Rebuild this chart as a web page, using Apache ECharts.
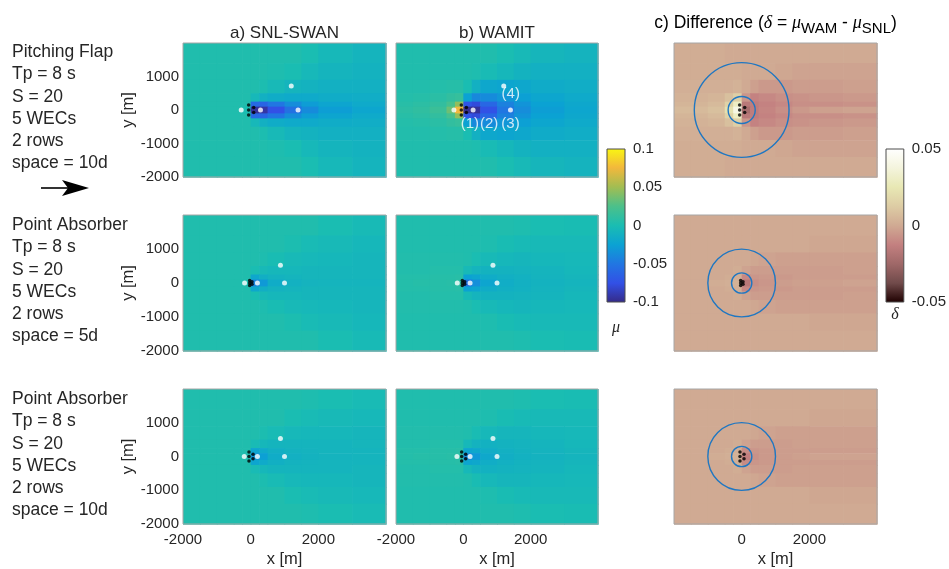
<!DOCTYPE html>
<html><head><meta charset="utf-8">
<script src="https://cdn.jsdelivr.net/npm/echarts@6/dist/echarts.min.js"></script>
<style>html,body{margin:0;padding:0;background:#fff}#c{width:949px;height:569px}</style>
</head><body><div id="c"></div>
<script>
// ================= DATA =================
// cell edges of the field grids (m)
const xEdges = [-2000,-1500,-1000,-500,-250,0,250,500,1000,1500,2000,3000,4000];
const yEdges = [2000,1400,900,500,250,100,-100,-250,-500,-900,-1400,-2000]; // top -> bottom
const xRange = [-2000, 4000];
const yRange = [-2000, 2000];
const xTickStep = 2000;
const yTickStep = 1000;
const muRange = [-0.1, 0.1];
const deltaRange = [-0.05, 0.05];
const muTickStep = 0.05;
const deltaTickStep = 0.05;
const FIELD_UNIT = 0.001; // field arrays are given in thousandths

// a) SNL-SWAN, pitching flap, space 10d (mu x 1000)
const muSwanFlap10d = [
  [3,3,3,3,3,3,3,3,3,0,-5,-8],
  [3,3,3,3,3,3,3,2,0,-5,-8,-10],
  [3,3,3,3,3,3,1,-4,-8,-10,-12,-12],
  [3,3,3,3,3,-5,-12,-16,-18,-18,-16,-15],
  [3,3,3,3,3,-58,-62,-50,-37,-28,-22,-18],
  [3,3,3,3,0,-95,-92,-75,-53,-38,-27,-21],
  [3,3,3,3,3,-58,-62,-50,-37,-28,-22,-18],
  [3,3,3,3,3,-5,-12,-16,-18,-18,-16,-15],
  [3,3,3,3,3,3,1,-4,-8,-10,-12,-12],
  [3,3,3,3,3,3,3,2,0,-5,-8,-10],
  [3,3,3,3,3,3,3,3,3,0,-5,-8]
];
// b) WAMIT, pitching flap, space 10d
const muWamitFlap10d = [
  [3,3,3,3,3,3,3,3,0,-4,-7,-9],
  [3,3,3,3,3,3,2,-2,-6,-10,-12,-12],
  [4,4,5,6,6,0,-12,-20,-22,-20,-17,-15],
  [5,6,8,12,14,-25,-40,-38,-32,-26,-21,-18],
  [7,9,12,22,45,-72,-78,-60,-44,-33,-25,-20],
  [9,11,16,35,75,-97,-95,-74,-50,-37,-27,-21],
  [7,9,12,22,45,-72,-78,-60,-44,-33,-25,-20],
  [5,6,8,12,14,-25,-40,-38,-32,-26,-21,-18],
  [4,4,5,6,6,0,-12,-20,-22,-20,-17,-15],
  [3,3,3,3,3,3,2,-2,-6,-10,-12,-12],
  [3,3,3,3,3,3,3,3,0,-4,-7,-9]
];
// c) difference, pitching flap, space 10d (delta x 1000)
const deltaFlap10d = [
  [1,1,1,0,0,0,0,0,0,0,0,0],
  [1,1,1,1,1,0,0,0,-1,-2,-2,-2],
  [2,2,2,2,3,0,-3,-5,-5,-4,-4,-3],
  [3,3,4,8,14,-6,-12,-10,-8,-7,-6,-5],
  [4,4,6,15,30,-16,-14,-12,-10,-8,-8,-7],
  [6,6,8,22,40,-22,-14,-11,-8,-5,-3,-2],
  [4,4,6,15,30,-16,-14,-12,-10,-8,-8,-7],
  [3,3,4,8,14,-6,-12,-10,-8,-7,-6,-5],
  [2,2,2,2,3,0,-3,-5,-5,-4,-4,-3],
  [1,1,1,1,1,0,0,0,-1,-2,-2,-2],
  [1,1,1,0,0,0,0,0,0,0,0,0]
];
// point absorber, space 5d
const muSwanPA5d = [
  [3,3,3,3,3,3,3,3,3,3,0,-3],
  [3,3,3,3,3,3,3,3,1,-2,-4,-6],
  [3,3,3,3,3,3,2,-1,-4,-5,-6,-7],
  [3,3,3,3,3,0,-4,-6,-6,-7,-7,-7],
  [3,3,3,3,3,-20,-14,-10,-8,-7,-7,-7],
  [3,3,3,3,2,-42,-30,-16,-11,-9,-8,-8],
  [3,3,3,3,3,-20,-14,-10,-8,-7,-7,-7],
  [3,3,3,3,3,0,-4,-6,-6,-7,-7,-7],
  [3,3,3,3,3,3,2,-1,-4,-5,-6,-7],
  [3,3,3,3,3,3,3,3,1,-2,-4,-6],
  [3,3,3,3,3,3,3,3,3,3,0,-3]
];
const muWamitPA5d = [
  [3,3,3,3,3,3,3,3,3,2,0,-1],
  [3,3,3,3,3,3,3,2,-1,-3,-4,-4],
  [4,4,4,4,4,3,0,-4,-6,-7,-6,-5],
  [4,4,5,5,5,-4,-8,-10,-10,-9,-8,-6],
  [5,5,6,6,7,-25,-22,-16,-13,-11,-9,-7],
  [5,6,6,7,8,-52,-36,-22,-15,-12,-10,-8],
  [5,5,6,6,7,-25,-22,-16,-13,-11,-9,-7],
  [4,4,5,5,5,-4,-8,-10,-10,-9,-8,-6],
  [4,4,4,4,4,3,0,-4,-6,-7,-6,-5],
  [3,3,3,3,3,3,3,2,-1,-3,-4,-4],
  [3,3,3,3,3,3,3,3,3,2,0,-1]
];
const deltaPA5d = [
  [0,0,0,0,0,0,0,0,0,0,0,0],
  [0,0,0,0,0,0,0,0,0,0,-1,-1],
  [0,0,0,0,0,0,-1,-2,-3,-3,-3,-3],
  [0,0,0,0,1,-2,-4,-4,-4,-4,-4,-3],
  [0,0,0,1,2,-10,-6,-5,-5,-4,-4,-4],
  [0,0,1,2,3,-16,-8,-6,-4,-3,-3,-2],
  [0,0,0,1,2,-10,-6,-5,-5,-4,-4,-4],
  [0,0,0,0,1,-2,-4,-4,-4,-4,-4,-3],
  [0,0,0,0,0,0,-1,-2,-3,-3,-3,-3],
  [0,0,0,0,0,0,0,0,0,0,-1,-1],
  [0,0,0,0,0,0,0,0,0,0,0,0]
];
// point absorber, space 10d
const muSwanPA10d = [
  [3,3,3,3,3,3,3,3,3,2,0,-2],
  [3,3,3,3,3,3,3,3,0,-2,-4,-5],
  [3,3,3,3,3,3,1,-2,-5,-6,-6,-7],
  [3,3,3,3,3,-2,-6,-8,-8,-8,-8,-7],
  [3,3,3,3,3,-22,-18,-13,-10,-9,-8,-8],
  [3,3,3,3,2,-32,-26,-16,-12,-10,-9,-8],
  [3,3,3,3,3,-22,-18,-13,-10,-9,-8,-8],
  [3,3,3,3,3,-2,-6,-8,-8,-8,-8,-7],
  [3,3,3,3,3,3,1,-2,-5,-6,-6,-7],
  [3,3,3,3,3,3,3,3,0,-2,-4,-5],
  [3,3,3,3,3,3,3,3,3,2,0,-2]
];
const muWamitPA10d = [
  [3,3,3,3,3,3,3,3,3,2,0,-1],
  [3,3,3,3,3,3,3,2,-1,-3,-4,-4],
  [4,4,4,4,4,3,-1,-5,-7,-7,-6,-5],
  [4,4,5,5,5,-5,-10,-11,-10,-9,-8,-6],
  [5,5,6,6,7,-22,-20,-15,-12,-10,-9,-7],
  [5,6,6,7,8,-38,-30,-19,-14,-11,-10,-8],
  [5,5,6,6,7,-22,-20,-15,-12,-10,-9,-7],
  [4,4,5,5,5,-5,-10,-11,-10,-9,-8,-6],
  [4,4,4,4,4,3,-1,-5,-7,-7,-6,-5],
  [3,3,3,3,3,3,3,2,-1,-3,-4,-4],
  [3,3,3,3,3,3,3,3,3,2,0,-1]
];
const deltaPA10d = [
  [0,0,0,0,0,0,0,0,0,0,0,0],
  [0,0,0,0,0,0,0,0,0,0,-1,-1],
  [0,0,0,0,0,0,-1,-2,-3,-3,-3,-3],
  [0,0,0,0,1,-2,-4,-4,-4,-3,-3,-3],
  [0,0,0,1,2,-9,-6,-5,-4,-4,-4,-4],
  [0,0,1,2,3,-13,-7,-5,-4,-3,-2,-2],
  [0,0,0,1,2,-9,-6,-5,-4,-4,-4,-4],
  [0,0,0,0,1,-2,-4,-4,-4,-3,-3,-3],
  [0,0,0,0,0,0,-1,-2,-3,-3,-3,-3],
  [0,0,0,0,0,0,0,0,0,0,-1,-1],
  [0,0,0,0,0,0,0,0,0,0,0,0]
];

// WEC positions per row (m)
const wecsFlap10d = [[-60,150],[-60,0],[-60,-150],[90,75],[90,-75]];
const wecsPA5d = [[-30,75],[-30,0],[-30,-75],[40,38],[40,-38]];
const wecsPA10d = [[-50,130],[-50,0],[-50,-130],[70,65],[70,-65]];
// measurement points per row (m)
const pointsFlap10d = [[-280,0],[290,0],[1400,0],[1200,720]];
const pointsPA5d = [[-180,0],[200,0],[1000,0],[880,520]];
const pointsPA10d = [[-190,0],[200,0],[1000,0],[880,530]];
const pointLabels = ['(1)','(2)','(3)','(4)'];
// circle radii in difference panels (m)
const circlesFlap10d = [400, 1400];
const circlesPA5d = [300, 1000];
const circlesPA10d = [300, 1000];

// texts
const colTitles = ['a) SNL-SWAN', 'b) WAMIT'];
const rowTexts = [
  ['Pitching Flap','Tp = 8 s','S = 20','5 WECs','2 rows','space = 10d'],
  ['Point Absorber','Tp = 8 s','S = 20','5 WECs','2 rows','space = 5d'],
  ['Point Absorber','Tp = 8 s','S = 20','5 WECs','2 rows','space = 10d']
];

// colormaps
const parulaColors = ['#352a87','#3250e6','#2176e2','#0ba2d3','#1abdb2','#4cc08a','#a2bd52','#f2b83c','#f9f612'];
const pinkColors = ['#1e0000','#704a4a','#9f6868','#c38080','#d0aa93','#ddcca4','#e8e8b4','#f4f4dd','#ffffff'];

// ================= LAYOUT =================
const FONT = '"Liberation Sans", Arial, sans-serif';
const TXT = '#262626';
const colLeft = [183, 396, 674], colWidth = [203, 202, 203];
const rowTop = [43, 215, 389], rowHeight = [134, 136, 135];
const rowTextTop = [41, 214, 388];
const labelOffsets = [[16,14],[16,14],[0,14],[7,8]];

const fieldGrid = [
  [muSwanFlap10d, muWamitFlap10d, deltaFlap10d],
  [muSwanPA5d, muWamitPA5d, deltaPA5d],
  [muSwanPA10d, muWamitPA10d, deltaPA10d]
];
const wecRows = [wecsFlap10d, wecsPA5d, wecsPA10d];
const pointRows = [pointsFlap10d, pointsPA5d, pointsPA10d];
const circleRows = [circlesFlap10d, circlesPA5d, circlesPA10d];

function cells(mat) {
  const out = [];
  for (let i = 0; i < mat.length; i++)
    for (let j = 0; j < mat[i].length; j++)
      out.push([xEdges[j], yEdges[i+1], xEdges[j+1], yEdges[i], mat[i][j] * FIELD_UNIT]);
  return out;
}
function renderCell(params, api) {
  const p0 = api.coord([api.value(0), api.value(3)]);
  const p1 = api.coord([api.value(2), api.value(1)]);
  return {type:'rect', shape:{x:p0[0], y:p0[1], width:p1[0]-p0[0]+0.7, height:p1[1]-p0[1]+0.7},
          style:{fill: api.visual('color')}};
}
function renderFrame(params, api) {
  const p0 = api.coord([api.value(0), api.value(3)]);
  const p1 = api.coord([api.value(2), api.value(1)]);
  return {type:'rect', shape:{x:p0[0], y:p0[1], width:p1[0]-p0[0], height:p1[1]-p0[1]},
          style:{fill:null, stroke:'#a6a6a6', lineWidth:1}};
}
function renderCircle(params, api) {
  const c = api.coord([api.value(0), api.value(1)]);
  const r = api.size([api.value(2), 0])[0];
  return {type:'circle', shape:{cx:c[0], cy:c[1], r:r}, style:{fill:null, stroke:'#1f77c2', lineWidth:1.4}};
}
function renderBar(colors) {
  return function(params, api) {
    const p0 = api.coord([api.value(0), api.value(3)]);
    const p1 = api.coord([api.value(2), api.value(1)]);
    const stops = colors.map((c, i) => ({offset: 1 - i/(colors.length-1), color: c})).reverse();
    return {type:'rect', shape:{x:p0[0], y:p0[1], width:p1[0]-p0[0], height:p1[1]-p0[1]},
            style:{fill: new echarts.graphic.LinearGradient(0,0,0,1, stops), stroke:'#4d4d4d', lineWidth:1}};
  };
}
const plainNum = v => String(Math.round(v * 1000) / 1000);

const grid = [], xAxis = [], yAxis = [], series = [];
const muIdx = [], deltaIdx = [];
for (let r = 0; r < 3; r++) {
  for (let c = 0; c < 3; c++) {
    const k = r*3 + c;
    const isDelta = c === 2;
    grid.push({left: colLeft[c], top: rowTop[r], width: colWidth[c], height: rowHeight[r]});
    xAxis.push({gridIndex:k, type:'value', min:xRange[0], max:xRange[1], interval:xTickStep,
      axisLine:{show:false}, axisTick:{show:false}, splitLine:{show:false},
      axisLabel:{show: r===2, showMaxLabel:false, showMinLabel: !isDelta, fontSize:15, color:TXT,
                 fontFamily:FONT, margin:8, formatter: plainNum},
      name: r===2 ? 'x [m]' : '', nameLocation:'middle', nameGap:27,
      nameTextStyle:{fontSize:16.5, color:TXT, fontFamily:FONT}});
    yAxis.push({gridIndex:k, type:'value', min:yRange[0], max:yRange[1], interval:yTickStep,
      axisLine:{show:false}, axisTick:{show:false}, splitLine:{show:false},
      axisLabel:{show: c===0, showMaxLabel:false, fontSize:15, color:TXT, fontFamily:FONT, margin:4,
                 formatter: plainNum},
      name: c===0 ? 'y [m]' : '', nameLocation:'middle', nameGap:38, nameRotate:90,
      nameTextStyle:{fontSize:16.5, color:TXT, fontFamily:FONT}});
    (isDelta ? deltaIdx : muIdx).push(series.length);
    series.push({type:'custom', xAxisIndex:k, yAxisIndex:k, renderItem:renderCell,
      encode:{x:[0,2], y:[1,3]}, data:cells(fieldGrid[r][c]), z:1, silent:true});
    if (isDelta) {
      series.push({type:'custom', xAxisIndex:k, yAxisIndex:k, renderItem:renderCircle,
        encode:{x:0, y:1}, data:circleRows[r].map(rad => [0, 0, rad]), z:4, silent:true});
    }
    series.push({type:'scatter', xAxisIndex:k, yAxisIndex:k, data:wecRows[r], symbol:'circle',
      symbolSize:3.5, itemStyle:{color:'#000'}, z:6, silent:true});
    if (!isDelta) {
      const pts = pointRows[r].map((p, i) => {
        const item = {value: p};
        if (r === 0 && c === 1) item.label = {show:true, position:'inside', formatter: pointLabels[i],
          offset: labelOffsets[i], color:'#fff', fontSize:15, fontFamily:FONT};
        return item;
      });
      series.push({type:'scatter', xAxisIndex:k, yAxisIndex:k, data:pts, symbol:'circle',
        symbolSize:5, itemStyle:{color:'#fff'}, z:7, silent:true});
    }
    series.push({type:'custom', xAxisIndex:k, yAxisIndex:k, renderItem:renderFrame,
      encode:{x:[0,2], y:[1,3]}, data:[[xRange[0], yRange[0], xRange[1], yRange[1]]], z:8, silent:true});
  }
}
// colorbars
const cbDefs = [
  {left:607, width:18, range:muRange, step:muTickStep, colors:parulaColors, name:'μ', gap:18},
  {left:886, width:19, range:deltaRange, step:deltaTickStep, colors:pinkColors, name:'δ', gap:5}
];
cbDefs.forEach(cb => {
  const k = grid.length;
  grid.push({left:cb.left, top:149, width:cb.width, height:153});
  xAxis.push({gridIndex:k, type:'value', min:0, max:1, axisLine:{show:false}, axisTick:{show:false},
    axisLabel:{show:false}, splitLine:{show:false}, name:cb.name, nameLocation:'middle', nameGap:cb.gap,
    nameTextStyle:{fontSize:16, color:TXT, fontStyle:'italic', fontFamily:'"Liberation Serif", serif'}});
  yAxis.push({gridIndex:k, type:'value', position:'right', min:cb.range[0], max:cb.range[1], interval:cb.step,
    axisLine:{show:false}, splitLine:{show:false}, axisTick:{show:false},
    axisLabel:{fontSize:15, color:TXT, fontFamily:FONT, margin:8, formatter: plainNum}});
  series.push({type:'custom', xAxisIndex:k, yAxisIndex:k, renderItem:renderBar(cb.colors),
    encode:{x:[0,2], y:[1,3]}, data:[[0, cb.range[0], 1, cb.range[1]]], z:1, silent:true});
});

const graphic = [];
rowTexts.forEach((lines, i) => {
  graphic.push({type:'text', left:12, top:rowTextTop[i],
    style:{text: lines.join('\n'), fontSize:17.5, fontFamily:FONT, fill:TXT, lineHeight:22.3}});
});
colTitles.forEach((t, i) => {
  graphic.push({type:'text', x: colLeft[i] + colWidth[i]/2, y:33,
    style:{text:t, fontSize:17, fontFamily:FONT, fill:TXT, align:'center', verticalAlign:'middle',
           textAlign:'center', textVerticalAlign:'middle'}});
});
graphic.push({type:'text', x: colLeft[2] + colWidth[2]/2, y:23,
  style:{text:'{n|c) Difference (}{i|δ}{n| = }{i|μ}{s|WAM}{n| - }{i|μ}{s|SNL}{n|)}',
    align:'center', verticalAlign:'middle', textAlign:'center', textVerticalAlign:'middle',
    rich:{
      n:{fontSize:17.5, fontFamily:FONT, color:TXT, lineHeight:22},
      i:{fontSize:18, fontFamily:'"Liberation Serif", serif', fontStyle:'italic', color:TXT, lineHeight:22},
      s:{fontSize:15, fontFamily:FONT, color:TXT, lineHeight:16, padding:[12,0,0,0]}
    }}});
// wave direction arrow
graphic.push({type:'line', shape:{x1:41, y1:188, x2:70, y2:188}, style:{stroke:'#000', lineWidth:1.6}});
graphic.push({type:'polygon', shape:{points:[[62,180],[89,188],[62,196],[68,188]]}, style:{fill:'#000'}});

const chart = echarts.init(document.getElementById('c'));
chart.setOption({
  animation:false,
  backgroundColor:'#fff',
  grid, xAxis, yAxis, series, graphic,
  visualMap:[
    {type:'continuous', show:false, min:muRange[0], max:muRange[1], dimension:4, seriesIndex:muIdx,
     inRange:{color:parulaColors}},
    {type:'continuous', show:false, min:deltaRange[0], max:deltaRange[1], dimension:4, seriesIndex:deltaIdx,
     inRange:{color:pinkColors}}
  ]
});
</script>
</body></html>
